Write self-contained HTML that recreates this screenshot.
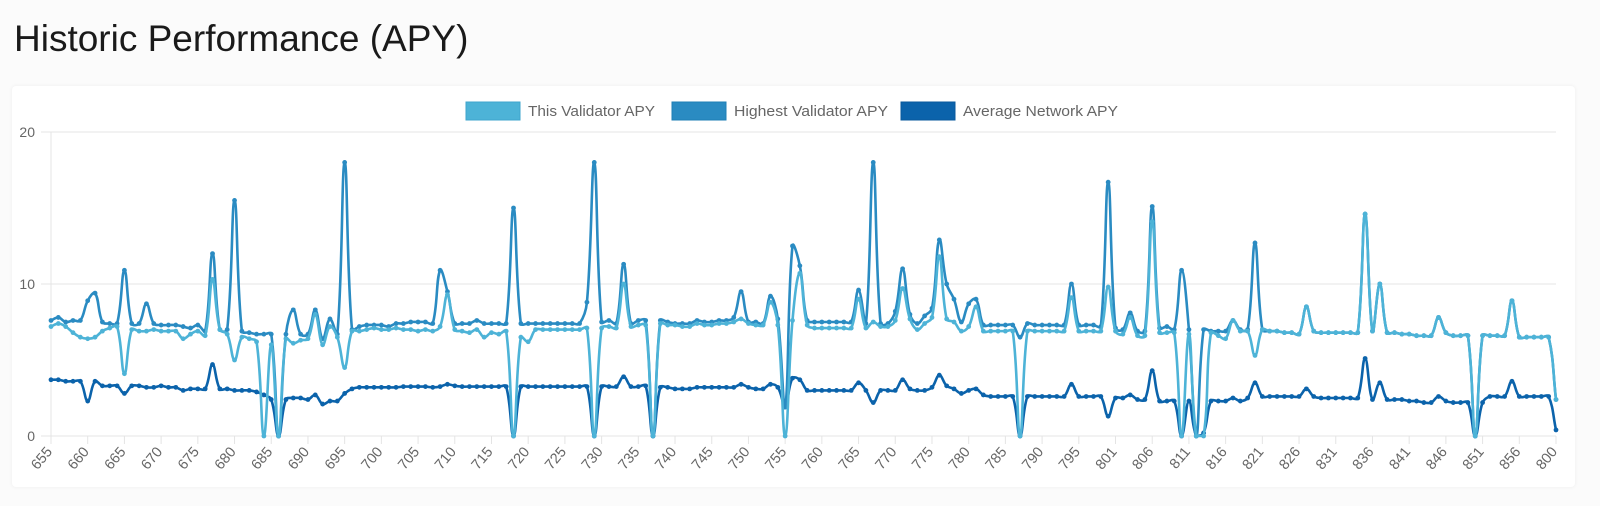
<!DOCTYPE html>
<html><head><meta charset="utf-8">
<style>
html,body{margin:0;padding:0;width:1600px;height:506px;overflow:hidden;background:#fbfbfb;font-family:"Liberation Sans",Arial,sans-serif;}
#title{position:absolute;left:14px;top:18px;font-size:37px;color:#1a1a1a;margin:0;font-weight:normal;white-space:nowrap;}
#card{position:absolute;left:12px;top:86px;width:1563px;height:401px;background:#fff;border-radius:4px;box-shadow:0 0 4px rgba(0,0,0,0.06);}
svg{position:absolute;left:0;top:0;}
</style></head>
<body>
<h1 id="title">Historic Performance (APY)</h1>
<div id="card"></div>
<svg id="chart" width="1600" height="506"></svg>
<script>
const tickLabels = ["655","660","665","670","675","680","685","690","695","700","705","710","715","720","725","730","735","740","745","750","755","760","765","770","775","780","785","790","795","801","806","811","816","821","826","831","836","841","846","851","856","800"];
const yTicks = [0,10,20];
const thisValidator = [7.2,7.4,7.2,6.8,6.5,6.4,6.5,6.9,7.1,7.2,4.1,7.0,6.9,6.9,7.0,6.9,6.9,6.9,6.4,6.7,6.9,6.6,10.3,7.0,6.7,5.0,6.5,6.4,6.2,0,6.0,0,6.4,6.1,6.3,6.4,8.0,6.0,7.2,6.5,4.5,6.9,6.9,7.0,7.1,7.0,7.0,7.1,7.0,7.0,6.9,7.0,6.9,7.2,9.3,7.0,6.9,6.8,7.0,6.5,6.8,6.7,6.9,0,6.5,6.2,7.0,7.0,7.0,7.0,7.0,7.0,7.0,7.1,0,7.1,7.2,7.1,10.0,7.2,7.3,7.3,0,7.4,7.3,7.3,7.2,7.2,7.4,7.3,7.3,7.4,7.4,7.5,7.7,7.4,7.3,7.3,8.8,7.3,0,7.6,10.7,7.3,7.1,7.1,7.1,7.1,7.1,7.1,9.0,7.1,7.5,7.2,7.2,7.6,9.7,7.7,7.0,7.4,7.8,11.8,7.7,7.5,6.9,7.2,8.5,6.9,6.9,6.9,6.9,6.9,0,6.9,6.9,6.9,6.9,6.9,6.9,9.1,6.9,6.9,6.9,6.9,9.8,6.9,6.7,7.8,6.6,6.6,14.1,6.8,6.8,6.8,0,6.7,0,0,6.8,6.6,6.4,7.6,6.9,6.9,5.3,7.0,6.9,6.9,6.8,6.8,6.7,8.5,6.9,6.8,6.8,6.8,6.8,6.8,6.8,14.6,6.9,10.0,6.8,6.8,6.7,6.7,6.6,6.6,6.6,7.8,6.8,6.6,6.6,6.6,0,6.6,6.6,6.6,6.6,8.9,6.5,6.5,6.5,6.5,6.5,2.4];
const highestValidator = [7.6,7.8,7.5,7.6,7.6,8.9,9.4,7.5,7.4,7.4,10.9,7.4,7.4,8.7,7.4,7.3,7.3,7.3,7.2,7.1,7.3,6.9,12.0,7.0,7.0,15.5,6.9,6.8,6.7,6.7,6.7,0,6.7,8.3,6.7,6.7,8.3,6.4,7.7,6.7,18.0,7.0,7.2,7.3,7.3,7.3,7.2,7.4,7.4,7.5,7.5,7.5,7.4,10.9,9.5,7.4,7.4,7.4,7.6,7.4,7.4,7.4,7.4,15.0,7.4,7.4,7.4,7.4,7.4,7.4,7.4,7.4,7.4,8.8,18.0,7.5,7.6,7.4,11.3,7.4,7.6,7.6,0,7.6,7.5,7.4,7.4,7.4,7.6,7.5,7.5,7.6,7.6,7.8,9.5,7.5,7.5,7.4,9.2,7.7,1.9,12.5,11.2,7.6,7.5,7.5,7.5,7.5,7.5,7.5,9.6,7.4,18.0,7.4,7.4,8.2,11.0,8.0,7.4,7.9,8.4,12.9,10.0,9.0,7.5,8.7,9.0,7.3,7.3,7.3,7.3,7.3,6.5,7.4,7.3,7.3,7.3,7.3,7.3,10.0,7.3,7.3,7.3,7.2,16.7,7.1,7.0,8.1,6.9,6.9,15.1,7.1,7.2,7.0,10.9,7.0,0,7.0,6.9,6.9,6.9,7.6,7.0,7.0,12.7,7.0,6.9,6.9,6.8,6.8,6.7,8.5,6.9,6.8,6.8,6.8,6.8,6.8,6.8,14.6,6.9,10.0,6.8,6.8,6.7,6.7,6.6,6.6,6.6,7.8,6.8,6.6,6.6,6.6,0,6.6,6.6,6.6,6.6,8.9,6.5,6.5,6.5,6.5,6.5,2.4];
const averageNetwork = [3.7,3.7,3.6,3.6,3.6,2.3,3.6,3.3,3.3,3.3,2.8,3.3,3.3,3.2,3.2,3.3,3.2,3.2,3.0,3.1,3.1,3.1,4.7,3.1,3.1,3.0,3.0,3.0,2.9,2.7,2.4,0,2.4,2.5,2.5,2.4,2.7,2.1,2.3,2.3,2.8,3.1,3.2,3.2,3.2,3.2,3.2,3.2,3.25,3.25,3.25,3.25,3.2,3.25,3.4,3.3,3.25,3.25,3.25,3.25,3.25,3.25,3.25,0,3.25,3.25,3.25,3.25,3.25,3.25,3.25,3.25,3.25,3.25,0,3.25,3.25,3.25,3.9,3.25,3.25,3.3,0,3.2,3.2,3.1,3.1,3.1,3.2,3.2,3.2,3.2,3.2,3.2,3.4,3.2,3.1,3.1,3.4,3.2,2.0,3.8,3.7,3.0,3.0,3.0,3.0,3.0,3.0,3.0,3.5,3.0,2.2,3.0,3.0,3.0,3.7,3.1,3.0,3.0,3.2,4.0,3.3,3.1,2.8,3.0,3.1,2.7,2.6,2.6,2.6,2.6,0,2.6,2.6,2.6,2.6,2.6,2.6,3.4,2.6,2.6,2.6,2.6,1.3,2.5,2.5,2.7,2.4,2.4,4.3,2.3,2.3,2.3,0,2.3,0,0.2,2.3,2.3,2.3,2.5,2.3,2.5,3.5,2.6,2.6,2.6,2.6,2.6,2.6,3.1,2.6,2.5,2.5,2.5,2.5,2.5,2.5,5.1,2.4,3.5,2.4,2.4,2.4,2.3,2.3,2.2,2.2,2.6,2.3,2.2,2.2,2.2,0,2.2,2.6,2.6,2.6,3.6,2.6,2.6,2.6,2.6,2.6,0.4];

const NS="http://www.w3.org/2000/svg";
const svg=document.getElementById('chart');
const X0=51, X1=1556, Y0=436, Ytop=132, YMAX=20;
const N=thisValidator.length;
function xs(i){return X0+(X1-X0)*i/(N-1);}
function ys(v){return Y0-(Y0-Ytop)*v/YMAX;}
function mk(tag,attrs){const e=document.createElementNS(NS,tag);for(const k in attrs)e.setAttribute(k,attrs[k]);svg.appendChild(e);return e;}

yTicks.forEach(v=>{
  const g=mk('line',{x1:41,x2:X1,y1:ys(v),y2:ys(v),stroke:'#e4e4e4','stroke-width':1});
  
  
  const t=mk('text',{x:35,y:ys(v)+5,'text-anchor':'end','font-size':14,fill:'#666','font-family':'Liberation Sans, Arial, sans-serif'});
  t.textContent=v;
  
  
});
const ax=mk('line',{x1:X0,x2:X0,y1:Ytop,y2:Y0+8,stroke:'#e4e4e4','stroke-width':1});


tickLabels.forEach((lab,k)=>{
  const x=xs(k*5);
  const tk=mk('line',{x1:x,x2:x,y1:Y0,y2:Y0+8,stroke:'#e4e4e4','stroke-width':1});
  
  
  const t=mk('text',{x:x+2,y:Y0+16,'text-anchor':'end','font-size':14.5,fill:'#666','font-family':'Liberation Sans, Arial, sans-serif',transform:`rotate(-50 ${x+2} ${Y0+16})`});
  t.textContent=lab;
  
  
});

function spline(vals){
  const p=vals.map((v,i)=>[xs(i),ys(v)]);
  const cps=p.map((pt,i)=>{
    const p0=p[i-1]||pt, p2=p[i+1]||pt;
    const d01=Math.hypot(pt[0]-p0[0],pt[1]-p0[1]), d12=Math.hypot(p2[0]-pt[0],p2[1]-pt[1]);
    let s01=d01/(d01+d12), s12=d12/(d01+d12);
    if(isNaN(s01))s01=0; if(isNaN(s12))s12=0;
    const fa=0.4*s01, fb=0.4*s12;
    const cl=y=>Math.max(Ytop,Math.min(Y0,y));
    return {px:pt[0]-fa*(p2[0]-p0[0]),py:cl(pt[1]-fa*(p2[1]-p0[1])),nx:pt[0]+fb*(p2[0]-p0[0]),ny:cl(pt[1]+fb*(p2[1]-p0[1]))};
  });
  let d=`M${p[0][0]},${p[0][1]}`;
  for(let i=1;i<p.length;i++){d+=` C${cps[i-1].nx},${cps[i-1].ny} ${cps[i].px},${cps[i].py} ${p[i][0]},${p[i][1]}`;}
  return {d,p};
}
function drawSeries(vals,color,name){
  const s=spline(vals);
  const path=mk('path',{d:s.d,fill:'none',stroke:color,'stroke-width':2.6,'stroke-linejoin':'round'});
  
  
  s.p.forEach(pt=>{
    const c=mk('circle',{cx:pt[0],cy:pt[1],r:2.4,fill:color});
    
    
  });
}
drawSeries(averageNetwork,'#0b63ab','average-network-apy');
drawSeries(highestValidator,'#2a8bc2','highest-validator-apy');
drawSeries(thisValidator,'#4db3d7','this-validator-apy');

const legend=[['This Validator APY','#4db3d7','#3fa6cc',466,127],['Highest Validator APY','#2a8bc2','#1f7fb6',672,154],['Average Network APY','#0b63ab','#085a9c',901,155]];
legend.forEach(([lab,fill,stroke,x,w])=>{
  const r=mk('rect',{x:x,y:102,width:54,height:18,fill:fill,stroke:stroke,'stroke-width':1});
  
  
  const t=mk('text',{x:x+62,y:116,'font-size':15,fill:'#666','font-family':'Liberation Sans, Arial, sans-serif',textLength:w,lengthAdjust:'spacingAndGlyphs'});
  t.textContent=lab;
  
  
});
</script>
</body></html>
